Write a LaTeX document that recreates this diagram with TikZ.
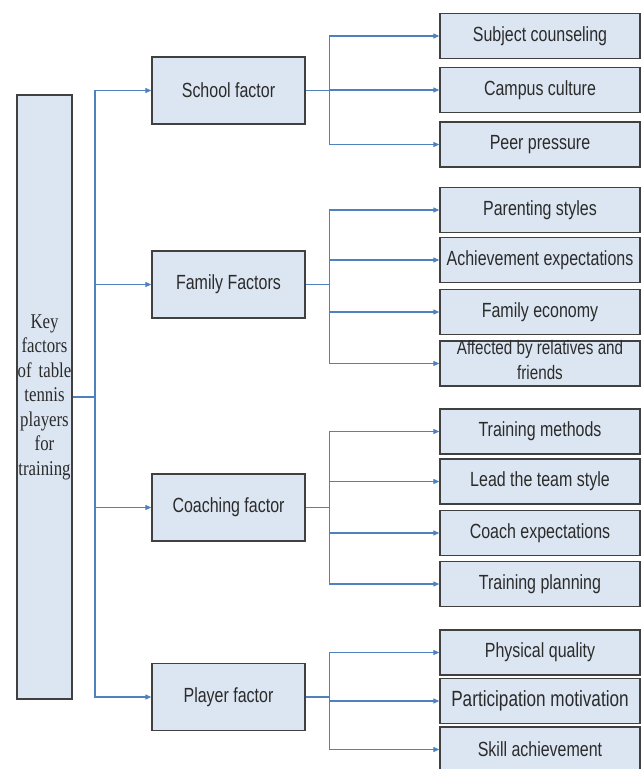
\documentclass[tikz,border=0pt]{standalone}
\usepackage{fontspec}
\setmainfont{Liberation Sans}
\newfontfamily\boxfont{Liberation Sans}[FakeStretch=0.78]
\newfontfamily\keyfont{Liberation Serif}[FakeStretch=0.8]
\usetikzlibrary{arrows.meta}
\definecolor{boxfill}{HTML}{DCE6F2}
\definecolor{boxline}{HTML}{404040}
\definecolor{linkblue}{HTML}{4F81BD}
\definecolor{txt}{HTML}{2B2B2B}
\begin{document}
\begin{tikzpicture}[x=1pt,y=-1pt,
  box/.style={draw=boxline, line width=1.3pt, fill=boxfill, text=txt,
    font=\boxfont\fontsize{20.5}{25}\selectfont, inner sep=0pt, align=center},
  midbox/.style={box, minimum width=153pt, minimum height=67pt},
  subbox/.style={box, minimum width=200pt, minimum height=45pt},
  link/.style={draw=linkblue, line width=1.1pt},
  arr/.style={link, -{Triangle[length=6pt,width=5pt]}}]
\useasboundingbox (0,0) rectangle (641,769);

% key box
\node[box, font=\keyfont\fontsize{21}{24.5}\selectfont, minimum width=55pt,
  minimum height=604pt, text width=55pt] (key) at (44.5,397)
  {Key\\factors\\of table\\tennis\\players\\for\\training};

% middle boxes
\node[midbox] (school) at (228.5,90.5) {School factor};
\node[midbox] (family) at (228.5,284.5) {Family Factors};
\node[midbox] (coach)  at (228.5,507.5) {Coaching factor};
\node[midbox] (player) at (228.5,697) {Player factor};

% right boxes
\node[subbox] (s1) at (540,36) {Subject counseling};
\node[subbox] (s2) at (540,90) {Campus culture};
\node[subbox] (s3) at (540,144.5) {Peer pressure};

\node[subbox] (f1) at (540,210) {Parenting styles};
\node[subbox] (f2) at (540,260) {Achievement expectations};
\node[subbox] (f3) at (540,312) {Family economy};
\node[subbox] (f4) at (540,363.5) {};
\node[font=\boxfont\fontsize{19.5}{25}\selectfont, text=txt, align=center, inner sep=0pt]
  (f4t) at (540,360) {Affected by relatives and\\friends};

\node[subbox] (c1) at (540,431.5) {Training methods};
\node[subbox] (c2) at (540,481.5) {Lead the team style};
\node[subbox] (c3) at (540,533) {Coach expectations};
\node[subbox] (c4) at (540,584) {Training planning};

\node[subbox] (p1) at (540,652.5) {Physical quality};
\node[subbox, font=\boxfont\fontsize{22}{25}\selectfont] (p2) at (540,701) {Participation motivation};
\node[subbox] (p3) at (540,749.5) {Skill achievement};

% trunk
\coordinate (t) at (95,397);
\draw[link] (key.east) -- (t);
\foreach \n in {school,family,coach,player} \draw[arr] (t) |- (\n.west);

% branches
\draw[link] (school.east) -- ++(24,0) coordinate (bs);
\foreach \n in {s1,s2,s3} \draw[arr] (bs) |- (\n.west);

\draw[link] (family.east) -- ++(24,0) coordinate (bf);
\foreach \n in {f1,f2,f3,f4} \draw[arr] (bf) |- (\n.west);

\draw[link] (coach.east) -- ++(24,0) coordinate (bc);
\foreach \n in {c1,c2,c3,c4} \draw[arr] (bc) |- (\n.west);

\draw[link] (player.east) -- ++(24,0) coordinate (bp);
\foreach \n in {p1,p2,p3} \draw[arr] (bp) |- (\n.west);
\end{tikzpicture}
\end{document}
